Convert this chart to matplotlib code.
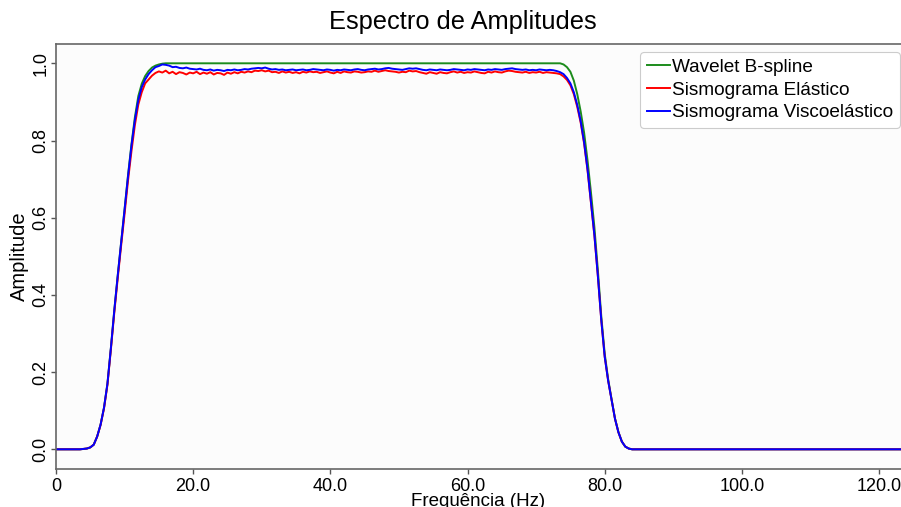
import numpy as np
import matplotlib
matplotlib.use("Agg")
import matplotlib.pyplot as plt

plt.rcParams["font.family"] = ["Liberation Sans", "DejaVu Sans"]

# === 1) Spectrum values ===
# sismogram frequency grid (Hz): 3.5 .. 84.0 every 0.5 Hz
freq_sismo = np.arange(3.5, 84.01, 0.5)

# rising edge 3.5 .. 14.5 Hz
blue_rise = [0.0, 0.001, 0.002, 0.005, 0.012, 0.033, 0.064, 0.108, 0.17, 0.262,
             0.36, 0.45, 0.536, 0.62, 0.707, 0.786, 0.853, 0.905, 0.938, 0.958,
             0.972, 0.982, 0.99]
red_rise = [0.0, 0.001, 0.002, 0.005, 0.012, 0.033, 0.063, 0.106, 0.167, 0.258,
            0.354, 0.443, 0.528, 0.61, 0.696, 0.772, 0.84, 0.893, 0.925, 0.948,
            0.958, 0.968, 0.975]

# flat part 15.0 .. 73.0 Hz
blue_flat = [0.993, 0.997, 0.996, 0.994, 0.990, 0.991, 0.988, 0.987, 0.989, 0.986,
             0.985, 0.984, 0.986, 0.983, 0.982, 0.984, 0.981, 0.983, 0.982, 0.980,
             0.983, 0.982, 0.984, 0.982, 0.983, 0.985, 0.984, 0.986, 0.987, 0.988,
             0.987, 0.989, 0.986, 0.984, 0.985, 0.983, 0.984, 0.982, 0.983, 0.984,
             0.982, 0.983, 0.984, 0.982, 0.983, 0.985, 0.984, 0.983, 0.982, 0.984,
             0.983, 0.981, 0.983, 0.982, 0.984, 0.983, 0.982, 0.984, 0.985, 0.983,
             0.982, 0.984, 0.985, 0.986, 0.984, 0.985, 0.987, 0.988, 0.986, 0.985,
             0.984, 0.983, 0.985, 0.987, 0.986, 0.987, 0.985, 0.983, 0.982, 0.984,
             0.983, 0.982, 0.984, 0.983, 0.982, 0.983, 0.985, 0.984, 0.983, 0.982,
             0.984, 0.983, 0.985, 0.984, 0.983, 0.982, 0.984, 0.983, 0.985, 0.984,
             0.983, 0.985, 0.986, 0.987, 0.985, 0.984, 0.983, 0.984, 0.982, 0.983,
             0.982, 0.984, 0.983, 0.982, 0.983, 0.982, 0.980]
red_flat = [0.979, 0.976, 0.981, 0.974, 0.978, 0.972, 0.977, 0.975, 0.971, 0.976,
            0.974, 0.978, 0.972, 0.976, 0.973, 0.977, 0.971, 0.975, 0.974, 0.970,
            0.976, 0.973, 0.977, 0.974, 0.978, 0.976, 0.979, 0.977, 0.981, 0.980,
            0.982, 0.979, 0.981, 0.977, 0.978, 0.975, 0.979, 0.976, 0.978, 0.975,
            0.977, 0.974, 0.978, 0.976, 0.979, 0.977, 0.978, 0.975, 0.977, 0.979,
            0.976, 0.974, 0.978, 0.975, 0.979, 0.977, 0.976, 0.979, 0.978, 0.976,
            0.977, 0.979, 0.978, 0.981, 0.978, 0.980, 0.982, 0.980, 0.979, 0.978,
            0.976, 0.978, 0.977, 0.981, 0.979, 0.980, 0.977, 0.975, 0.973, 0.977,
            0.975, 0.973, 0.977, 0.975, 0.974, 0.977, 0.979, 0.976, 0.978, 0.975,
            0.977, 0.976, 0.979, 0.977, 0.975, 0.974, 0.978, 0.976, 0.979, 0.977,
            0.976, 0.979, 0.981, 0.980, 0.978, 0.977, 0.976, 0.978, 0.975, 0.977,
            0.976, 0.978, 0.975, 0.977, 0.976, 0.975, 0.974]

# falling edge 73.5 .. 84.0 Hz
blue_fall = [0.977, 0.972, 0.962, 0.948, 0.925, 0.892, 0.85, 0.795, 0.725, 0.64,
             0.555, 0.45, 0.335, 0.24, 0.178, 0.128, 0.079, 0.044, 0.02, 0.007,
             0.002, 0.0]
red_fall = [0.972, 0.966, 0.957, 0.943, 0.92, 0.887, 0.846, 0.792, 0.722, 0.638,
            0.553, 0.449, 0.334, 0.24, 0.178, 0.128, 0.079, 0.044, 0.02, 0.007,
            0.002, 0.0]

# wavelet (smooth) spectrum
freq_wavelet = [0.0, 3.5, 4.0, 4.5, 5.0, 5.5, 6.0, 6.5, 7.0, 7.5, 8.0, 8.5, 9.0, 9.5,
                10.0, 10.5, 11.0, 11.5, 12.0, 12.5, 13.0, 13.5, 14.0, 14.5, 15.0,
                15.5, 16.0, 73.5, 74.0, 74.5, 75.0, 75.5, 76.0, 76.5, 77.0, 77.5,
                78.0, 78.5, 79.0, 79.5, 80.0, 80.5, 81.0, 81.5, 82.0, 82.5, 83.0,
                83.5, 84.0, 125.0]
amp_wavelet = [0.0, 0.0, 0.001, 0.002, 0.005, 0.012, 0.033, 0.064, 0.108, 0.17, 0.262,
               0.36, 0.45, 0.537, 0.622, 0.71, 0.79, 0.86, 0.915, 0.947, 0.967,
               0.98, 0.989, 0.994, 0.997, 0.999, 1.0, 1.0, 0.997, 0.99, 0.978,
               0.955, 0.92, 0.875, 0.82, 0.748, 0.665, 0.575, 0.465, 0.345, 0.248,
               0.182, 0.13, 0.08, 0.045, 0.02, 0.007, 0.002, 0.0, 0.0]

labels = ["Wavelet B-spline", "Sismograma Elástico", "Sismograma Viscoelástico"]
colors = ["#1c8c1c", "#ff0000", "#0000ff"]
xticks = [0, 20, 40, 60, 80, 100, 120]
xticklabels = ["0", "20.0", "40.0", "60.0", "80.0", "100.0", "120.0"]
yticks = [0.0, 0.2, 0.4, 0.6, 0.8, 1.0]
yticklabels = ["0.0", "0.2", "0.4", "0.6", "0.8", "1.0"]

# full series with zero tails
freq_s = np.concatenate([[0.0], freq_sismo, [125.0]])
amp_blue = np.concatenate([[0.0], blue_rise, blue_flat, blue_fall, [0.0]])
amp_red = np.concatenate([[0.0], red_rise, red_flat, red_fall, [0.0]])
assert len(amp_blue) == len(freq_s) and len(amp_red) == len(freq_s)

# === 2) Plot ===
fig = plt.figure(figsize=(9.01, 5.07), dpi=100)
ax = fig.add_axes([56 / 901, 38 / 507, 845 / 901, 425 / 507])
ax.set_facecolor("#fcfcfc")

ax.plot(freq_wavelet, amp_wavelet, color=colors[0], lw=1.4, label=labels[0])
ax.plot(freq_s, amp_red, color=colors[1], lw=1.4, label=labels[1])
ax.plot(freq_s, amp_blue, color=colors[2], lw=1.4, label=labels[2])

ax.set_xlim(0, 123.2)
ax.set_ylim(-0.051, 1.05)

ax.set_xticks(xticks)
ax.set_xticklabels(xticklabels, fontsize=13)
ax.set_yticks(yticks)
ax.set_yticklabels(yticklabels, fontsize=13, rotation=90, va="center")
ax.tick_params(axis="x", length=3.5, width=1.0, color="#555555", pad=3)
ax.tick_params(axis="y", length=3.5, width=1.0, color="#555555", pad=1)

for side in ["left", "bottom", "top"]:
    ax.spines[side].set_color("#666666")
    ax.spines[side].set_linewidth(1.2)
ax.spines["right"].set_visible(False)

ax.set_xlabel("Frequência (Hz)", fontsize=13.5, labelpad=-1.5)
ax.set_ylabel("Amplitude", fontsize=14.5, labelpad=3)
ax.set_title("Espectro de Amplitudes", fontsize=18.3, x=0.482, pad=11)

leg = ax.legend(loc="upper right", bbox_to_anchor=(0.999, 0.981), fontsize=13.7,
                handlelength=1.2, handletextpad=0.15, labelspacing=0.28,
                borderaxespad=0, borderpad=0.35, framealpha=1, fancybox=True)
leg.get_frame().set_edgecolor("#cccccc")
leg.get_frame().set_linewidth(0.8)

fig.savefig("out.png", dpi=100)
